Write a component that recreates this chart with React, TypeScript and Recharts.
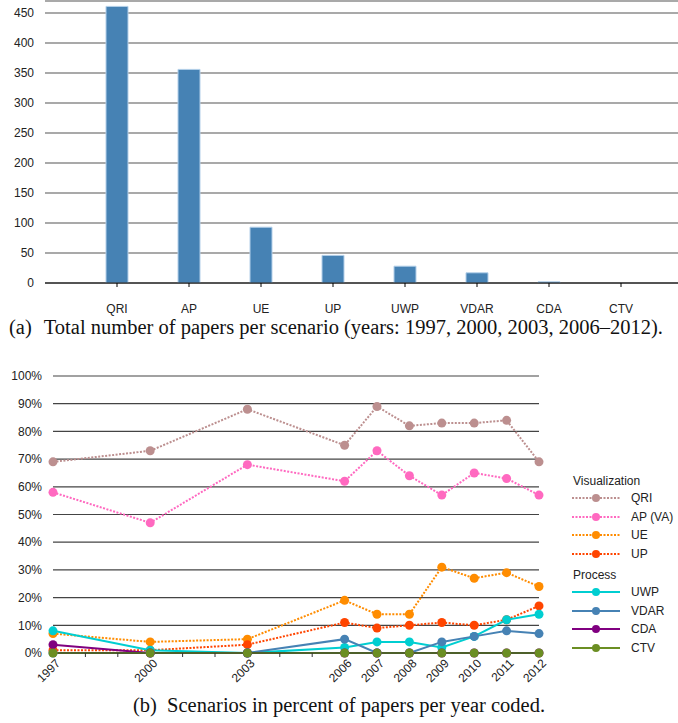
import React from "react";
import {
  BarChart, Bar, LineChart, Line, XAxis, YAxis, CartesianGrid,
} from "recharts";

const scenarios = ["QRI", "AP", "UE", "UP", "UWP", "VDAR", "CDA", "CTV"];
const paperTotals = [461, 356, 93, 46, 28, 17, 2, 0];
const barTicks = [0, 50, 100, 150, 200, 250, 300, 350, 400, 450];

const years = [1997, 2000, 2003, 2006, 2007, 2008, 2009, 2010, 2011, 2012];
const allYears = [1997, 1998, 1999, 2000, 2001, 2002, 2003, 2004, 2005, 2006, 2007, 2008, 2009, 2010, 2011, 2012];
const pctTicks = [0, 10, 20, 30, 40, 50, 60, 70, 80, 90, 100];

const qri = [69, 73, 88, 75, 89, 82, 83, 83, 84, 69];
const apVa = [58, 47, 68, 62, 73, 64, 57, 65, 63, 57];
const ue = [7, 4, 5, 19, 14, 14, 31, 27, 29, 24];
const up = [1, 1, 3, 11, 9, 10, 11, 10, 12, 17];
const uwp = [8, 1, 0, 2, 4, 4, 2, 6, 12, 14];
const vdar = [0, 0, 0, 5, 0, 0, 4, 6, 8, 7];
const cda = [3, 0, 0, 0, 0, 0, 0, 0, 0, 0];
const ctv = [0, 0, 0, 0, 0, 0, 0, 0, 0, 0];

const series = [
  { key: "QRI", label: "QRI", values: qri, color: "#bc8f8f", dotted: true },
  { key: "AP", label: "AP (VA)", values: apVa, color: "#ff69c0", dotted: true },
  { key: "UE", label: "UE", values: ue, color: "#ff8c00", dotted: true },
  { key: "UP", label: "UP", values: up, color: "#ff4500", dotted: true },
  { key: "UWP", label: "UWP", values: uwp, color: "#00ced1", dotted: false },
  { key: "VDAR", label: "VDAR", values: vdar, color: "#4682b4", dotted: false },
  { key: "CDA", label: "CDA", values: cda, color: "#800080", dotted: false },
  { key: "CTV", label: "CTV", values: ctv, color: "#6b8e23", dotted: false },
];

const barData = scenarios.map((s, i) => ({ name: s, total: paperTotals[i] }));
const lineData = years.map((yr, i) => {
  const row: any = { year: yr };
  series.forEach(s => { row[s.key] = s.values[i]; });
  return row;
});

const font = "'Liberation Sans', Arial, sans-serif";
const serif = "'Liberation Serif', 'Times New Roman', serif";

function YearTick({ x, y, payload }: any) {
  if (!years.includes(payload.value)) return null;
  return (
    <text x={x + 8} y={y + 7} transform={`rotate(-45 ${x + 8} ${y + 7})`} textAnchor="end"
      fontSize={12} fontFamily={font} fill="#222">{payload.value}</text>
  );
}

function Sample({ color, dotted }: { color: string; dotted: boolean }) {
  return (
    <svg width={50} height={10} style={{ display: "block" }}>
      <line x1={1} y1={5} x2={49} y2={5} stroke={color} strokeWidth={2} strokeDasharray={dotted ? "2 1.5" : undefined} />
      <circle cx={25} cy={5} r={4} fill={color} />
    </svg>
  );
}

function GroupLegend() {
  const groups = [
    { title: "Visualization", items: series.filter(s => s.dotted) },
    { title: "Process", items: series.filter(s => !s.dotted) },
  ];
  return (
    <div style={{ fontFamily: font, fontSize: 12, color: "#222" }}>
      {groups.map((g, gi) => (
        <div key={g.title} style={{ marginTop: gi ? 4 : 0 }}>
          <div style={{ paddingLeft: 2, height: 16, lineHeight: "16px" }}>{g.title}</div>
          {g.items.map(s => (
            <div key={s.key} style={{ display: "flex", alignItems: "center", height: 18.5 }}>
              <Sample color={s.color} dotted={s.dotted} />
              <span style={{ marginLeft: 10 }}>{s.label}</span>
            </div>
          ))}
        </div>
      ))}
    </div>
  );
}

export default function App() {
  return (
    <div style={{ position: "absolute", left: 0, top: 0, width: 678, height: 723, overflow: "hidden", background: "#fff" }}>
      <div style={{ position: "absolute", left: 0, top: 0 }}>
        <BarChart width={693} height={320} data={barData} margin={{ top: 1, right: 0, left: 0, bottom: 0 }}>
          <CartesianGrid vertical={false} stroke="#555" strokeWidth={1.2} />
          <XAxis dataKey="name" height={37} padding={{ left: 36, right: 36 }} axisLine={{ stroke: "#000" }}
            tickLine={{ stroke: "#000" }} tickSize={4} tickMargin={17}
            tick={{ fontSize: 12, fontFamily: font, fill: "#222" }} interval={0} />
          <YAxis width={45} domain={[0, 470]} ticks={barTicks} allowDataOverflow axisLine={false} tickLine={false}
            tickSize={0} tickMargin={11} tick={{ fontSize: 12, fontFamily: font, fill: "#222" }} />
          <Bar dataKey="total" fill="#4682b4" stroke="#b3cfe9" strokeWidth={1} barSize={22} isAnimationActive={false} />
        </BarChart>
      </div>
      <div style={{ position: "absolute", left: 9, top: 316, whiteSpace: "nowrap", fontFamily: serif, fontSize: 20.5, color: "#111" }}>
        (a)<span style={{ marginLeft: 12 }}>Total number of papers per scenario (years: 1997, 2000, 2003, 2006–2012).</span>
      </div>
      <div style={{ position: "absolute", left: 0, top: 360 }}>
        <LineChart width={678} height={340} data={lineData} margin={{ top: 16, right: 139, left: 0, bottom: 0 }}>
          <CartesianGrid vertical={false} stroke="#444" strokeWidth={1.2} />
          <XAxis dataKey="year" type="number" domain={[1997, 2012]} ticks={allYears} interval={0} height={47}
            axisLine={{ stroke: "#333" }} tickLine={{ stroke: "#333" }} tickSize={4} tickMargin={0} tick={<YearTick />} />
          <YAxis width={53} domain={[0, 100]} ticks={pctTicks} tickFormatter={v => `${v}%`} axisLine={false}
            tickLine={false} tickSize={0} tickMargin={11} tick={{ fontSize: 12, fontFamily: font, fill: "#222" }} />
          {series.map(s => (
            <Line key={s.key} dataKey={s.key} stroke={s.color} strokeWidth={2}
              strokeDasharray={s.dotted ? "2 1.5" : undefined}
              dot={{ r: 4.5, fill: s.color, stroke: s.color, strokeWidth: 0 }} activeDot={false}
              isAnimationActive={false} />
          ))}
        </LineChart>
      </div>
      <div style={{ position: "absolute", left: 571, top: 473 }}>
        <GroupLegend />
      </div>
      <div style={{ position: "absolute", left: 0, width: 678, top: 694, textAlign: "center", whiteSpace: "nowrap", fontFamily: serif, fontSize: 20.5, color: "#111" }}>
        (b)&nbsp;&nbsp;Scenarios in percent of papers per year coded.
      </div>
    </div>
  );
}
